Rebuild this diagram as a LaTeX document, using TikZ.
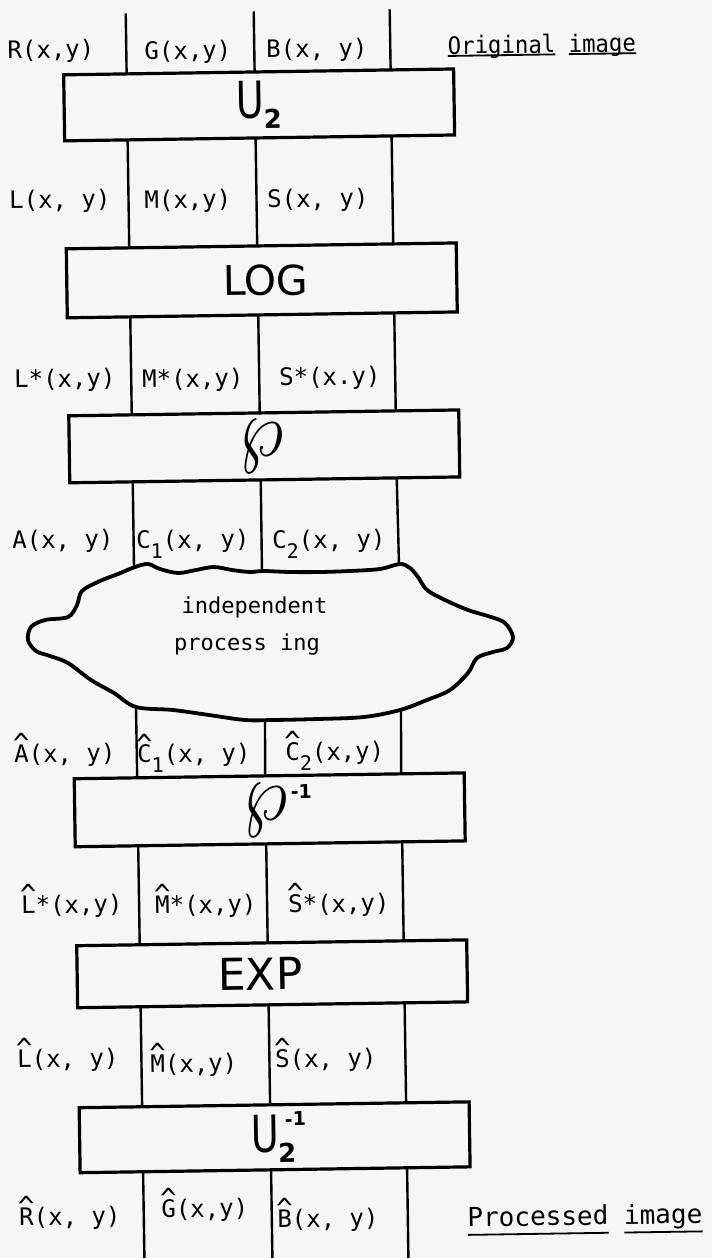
\documentclass[tikz,border=0pt]{standalone}
\usepackage{fontspec}
\usetikzlibrary{calc}
\newfontfamily\labfont{DejaVu Sans Mono}
\newfontfamily\boxfont{DejaVu Sans}
\definecolor{paper}{HTML}{F6F6F6}
\newcommand\hatted[1]{\setbox0\hbox{#1}\rlap{\hbox to\wd0{\hss\raisebox{0.37em}{\scalebox{1.15}{\textasciicircum}}\hss}}\box0\relax}
\newcommand\lowr[1]{\raisebox{-10pt}{\fontsize{20}{20}\selectfont #1}}
\newcommand\myul[2]{\setbox0\hbox{#2}\rlap{\rule[-#1]{\wd0}{1.8pt}}\box0\relax}
\newcommand\wires[2]{\foreach \f in {0.1615,0.4897,0.8385}{\draw[wire] ($(#1.south west)!\f!(#1.south east)$) -- ($(#2.north west)!\f!(#2.north east)$);}}
\begin{document}
\begin{tikzpicture}[x=1pt,y=-1pt,
  wire/.style={line width=2.4pt},
  opbox/.style={draw, line width=3.2pt, minimum width=390pt, inner sep=0pt, outer sep=0pt, font=\boxfont},
  lbl/.style={inner sep=0pt, anchor=base, font=\labfont\fontsize{24}{28}\selectfont},
  cloudtext/.style={inner sep=0pt, anchor=base, font=\labfont\fontsize{22}{26}\selectfont}]
\fill[paper] (0,0) rectangle (712,1258);
\useasboundingbox (0,0) rectangle (712,1258);
% cloud (image coordinates)
\draw[line width=3.8pt, line join=round] plot[smooth cycle, tension=0.55] coordinates {
 (135,567) (148,564) (160,569) (178,573) (196,570) (214,567) (232,570) (250,572) (263,571)
 (290,572) (320,572) (350,571) (380,569) (400,564) (410,568) (418,577) (427,590) (445,600)
 (468,610) (491,617) (505,623) (513,637) (507,648) (493,652) (477,658) (468,673) (450,690)
 (427,700) (400,710) (364,717) (318,719) (273,720) (245,720) (209,715) (173,710) (136,707)
 (114,693) (91,680) (68,663) (50,656) (36,651) (28,640) (31,627) (45,620) (68,617) (77,605)
 (82,591) (100,581) (118,574)};
\coordinate (k1) at (134,567);
\coordinate (k2) at (262,571);
\coordinate (k3) at (399,564);
\coordinate (b1) at (136,707);
\coordinate (b2) at (265,720);
\coordinate (b3) at (401,710);
\node[cloudtext] (ind) at (254.5,613) {independent};
\node[cloudtext] (proc) at (247,650) {process ing};
\begin{scope}[rotate around={0.86:(356,629)}, transform shape]
 % boxes
 \node[opbox, minimum height=66pt] (u2) at (267,103.5)
   {\scalebox{0.75}[1]{\fontsize{51}{51}\selectfont U}\kern-1pt\raisebox{-10pt}{\fontsize{26}{26}\selectfont\bfseries 2}};
 \node[opbox, minimum height=69pt] (log) at (267,279)
   {\fontsize{41}{41}\selectfont\hspace*{8pt}LOG};
 \node[opbox, minimum height=67pt] (wp) at (267,445)
   {\scalebox{7}[8.3]{$\wp$}\hspace*{6pt}};
 \node[opbox, minimum height=68pt] (wpi) at (267,808.5)
   {\hspace*{16pt}\scalebox{7}[8.3]{$\wp$}\kern3pt\raisebox{21pt}{\fontsize{19}{19}\selectfont\bfseries -1}};
 \node[opbox, minimum height=62pt] (exp) at (267,972.5)
   {\fontsize{44}{44}\selectfont EXP\hspace*{24pt}};
 \node[opbox, minimum height=65pt] (u2i) at (267,1136)
   {\hspace*{8pt}\scalebox{0.75}[1]{\fontsize{51}{51}\selectfont U}\kern-1pt\rlap{\raisebox{-10pt}{\fontsize{26}{26}\selectfont\bfseries 2}}\kern7pt\raisebox{26pt}{\fontsize{19}{19}\selectfont\bfseries -1}};
 % free ends at top and bottom
 \coordinate (t1) at (135,10);
 \coordinate (t2) at (263,10);
 \coordinate (t3) at (399,10);
 \coordinate (e1) at (135,1262);
 \coordinate (e2) at (263,1262);
 \coordinate (e3) at (399,1262);
 % wires
 \foreach \i/\f in {1/0.1615,2/0.4897,3/0.8385}{
   \draw[wire] (t\i) -- ($(u2.north west)!\f!(u2.north east)$);
   \draw[wire] ($(wp.south west)!\f!(wp.south east)$) -- (k\i);
   \draw[wire] (b\i) -- ($(wpi.north west)!\f!(wpi.north east)$);
   \draw[wire] ($(u2i.south west)!\f!(u2i.south east)$) -- (e\i);
 }
 \wires{u2}{log}
 \wires{log}{wp}
 \wires{wpi}{exp}
 \wires{exp}{u2i}
 % labels
 \node[lbl] (r1) at (59.6,53.4) {R(x,y)};
 \node[lbl] (g1) at (196.6,56.5) {G(x,y)};
 \node[lbl] (bb1) at (325.6,56.4) {B(x, y)};
 \node[lbl] (orig) at (550.6,55.8) {\scalebox{0.93}[1]{\myul{2.5pt}{Original} \myul{2.5pt}{image}}};
 \node[lbl] (l2) at (66.3,203.6) {L(x, y)};
 \node[lbl] (m2) at (194.3,205.5) {M(x,y)};
 \node[lbl] (s2) at (324.3,206.4) {S(x, y)};
 \node[lbl] (l3) at (68.6,382.6) {L*(x,y)};
 \node[lbl] (m3) at (196.6,384.6) {M*(x,y)};
 \node[lbl] (s3) at (333.6,384.6) {S*(x.y)};
 \node[lbl] (a4) at (64.2,543.6) {A(x, y)};
 \node[lbl] (c14) at (194.2,545.6) {C\lowr{1}(x, y)};
 \node[lbl] (c24) at (330.2,547.6) {C\lowr{2}(x, y)};
 \node[lbl] (a5) at (63,757.6) {\hatted{A}(x, y)};
 \node[lbl] (c15) at (192,759.6) {\hatted{C}\lowr{1}(x, y)};
 \node[lbl] (c25) at (333,759.7) {\hatted{C}\lowr{2}(x,y)};
 \node[lbl] (l6) at (67.7,908.7) {\hatted{L}*(x,y)};
 \node[lbl] (m6) at (201.7,910.8) {\hatted{M}*(x,y)};
 \node[lbl] (s6) at (334.7,911.7) {\hatted{S}*(x,y)};
 \node[lbl] (l7) at (61.4,1062.7) {\hatted{L}(x, y)};
 \node[lbl] (m7) at (187.4,1069.6) {\hatted{M}(x,y)};
 \node[lbl] (s7) at (319.4,1066.5) {\hatted{S}(x, y)};
 \node[lbl] (r8) at (61.1,1220.7) {\hatted{R}(x, y)};
 \node[lbl] (g8) at (196.1,1214.7) {\hatted{G}(x,y)};
 \node[lbl] (b8) at (319.1,1226.6) {\hatted{B}(x, y)};
 \node[lbl, font=\labfont\fontsize{26}{30}\selectfont] (pimg) at (576.1,1228.4) {\myul{9pt}{Processed} \myul{9pt}{image}};
\end{scope}
\end{tikzpicture}
\end{document}
